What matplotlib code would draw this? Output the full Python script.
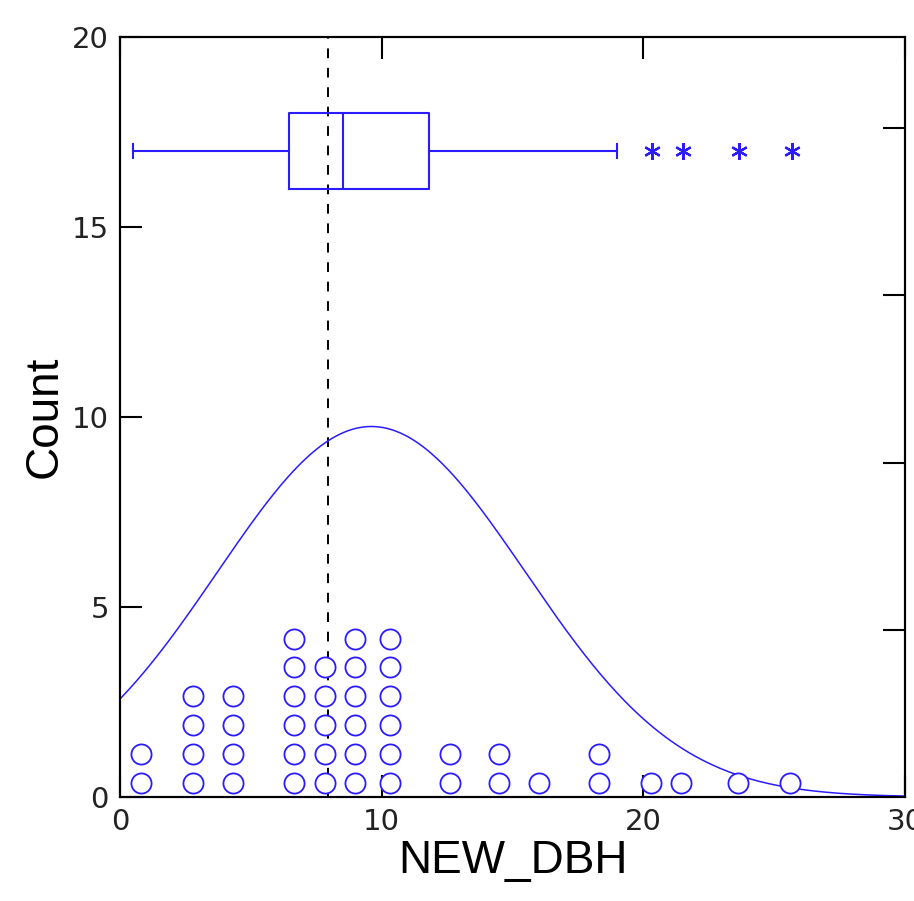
import numpy as np
import matplotlib
matplotlib.use("Agg")
import matplotlib.pyplot as plt

# ---------------------------------------------------------------
# data
# ---------------------------------------------------------------
# dot density columns: x value and number of stacked dots
dot_x = [0.79, 2.80, 4.31, 6.65, 7.82, 8.99, 10.32, 12.61, 14.49,
         16.02, 18.32, 20.30, 21.45, 23.62, 25.60]
dot_counts = [2, 4, 4, 6, 5, 6, 6, 2, 2, 1, 2, 1, 1, 1, 1]

# box plot summary (drawn at Count = 17)
box_whislo = 0.5
box_q1 = 6.46
box_med = 8.52
box_q3 = 11.8
box_whishi = 19.0
box_fliers = [20.33, 21.5, 23.65, 25.68]

ref_line_x = 7.95      # dashed reference line
curve_peak = 9.75      # height of the normal curve

blue = "#2a1cff"
plt.rcParams["font.family"] = ["Liberation Sans", "DejaVu Sans"]

fig = plt.figure(figsize=(9.14, 9.01), dpi=100)
ax = fig.add_axes([120 / 914, 104 / 901, 785 / 914, 760 / 901])

# ---------------------------------------------------------------
# dots stacked in columns
# ---------------------------------------------------------------
xs, ys = [], []
for x, n in zip(dot_x, dot_counts):
    for k in range(n):
        xs.append(x)
        ys.append(0.37 + 0.76 * k)
ax.plot(xs, ys, "o", ms=14.5, mfc="white", mec=blue, mew=1.3, zorder=3)

# ---------------------------------------------------------------
# normal curve fitted to the dot values
# ---------------------------------------------------------------
vals = np.repeat(dot_x, dot_counts)
mu = vals.mean()
sd = vals.std(ddof=1)
xx = np.linspace(0, 30, 400)
yy = curve_peak * np.exp(-0.5 * ((xx - mu) / sd) ** 2)
ax.plot(xx, yy, color=blue, lw=1.1, zorder=2)

# ---------------------------------------------------------------
# box plot on top
# ---------------------------------------------------------------
stats = [dict(whislo=box_whislo, q1=box_q1, med=box_med, q3=box_q3,
              whishi=box_whishi, fliers=box_fliers)]
ax.bxp(stats, positions=[17], widths=2, orientation="horizontal",
       capwidths=0.35, manage_ticks=False,
       boxprops=dict(color=blue, lw=1.5),
       medianprops=dict(color=blue, lw=1.5),
       whiskerprops=dict(color=blue, lw=1.5),
       capprops=dict(color=blue, lw=1.5),
       flierprops=dict(marker=(6, 2, 0), ms=12, mec=blue, mew=1.6,
                       ls="none"))

# dashed reference line
ax.axvline(ref_line_x, color="black", lw=1.4, ls=(0, (5, 5)), zorder=1)

# ---------------------------------------------------------------
# axes
# ---------------------------------------------------------------
ax.set_xlim(0, 30)
ax.set_ylim(0, 20)
ax.set_xticks([0, 10, 20, 30])
ax.set_yticks([0, 5, 10, 15, 20])
for s in ax.spines.values():
    s.set_linewidth(1.5)
ax.tick_params(direction="in", length=16, width=1.5, labelsize=21,
               top=True, pad=8, colors="black")
for lab in ax.get_xticklabels() + ax.get_yticklabels():
    lab.set_family("DejaVu Sans")
    lab.set_color("#222222")
ax.set_xlabel("NEW_DBH", fontsize=33, labelpad=2)
ax.set_ylabel("Count", fontsize=33, labelpad=4)

# proportion per bar axis on the right (ticks only)
ax2 = ax.twinx()
ax2.set_ylim(0, 20 / len(vals))
ax2.set_yticks([0.1, 0.2, 0.3, 0.4])
ax2.set_yticklabels([])
ax2.tick_params(direction="in", length=16, width=1.5)
for s in ax2.spines.values():
    s.set_linewidth(1.5)

fig.savefig("out.png", dpi=100)
